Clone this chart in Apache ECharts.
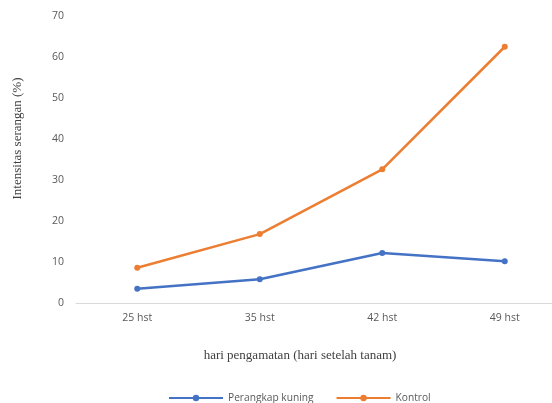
<!DOCTYPE html>
<html><head><meta charset="utf-8">
<script src="https://cdn.jsdelivr.net/npm/echarts@6/dist/echarts.min.js"></script>
<style>html,body{margin:0;padding:0;background:#fff}#c{width:552px;height:403px}</style>
</head><body><div id="c"></div>
<script>
const categories = ['25 hst', '35 hst', '42 hst', '49 hst'];
const perangkapKuning = [3.5, 5.8, 12.2, 10.2];
const kontrol = [8.6, 16.8, 32.6, 62.5];
const yTicks = [0, 10, 20, 30, 40, 50, 60, 70];

const chart = echarts.init(document.getElementById('c'), null, {renderer: 'canvas'});
chart.setOption({
  animation: false,
  backgroundColor: '#fff',
  grid: {left: 76, width: 490, top: 16, bottom: 100, containLabel: false, outerBoundsMode: 'none'},
  legend: {
    bottom: 0, left: 168, padding: 0,
    itemWidth: 54, itemHeight: 8, itemGap: 22,
    textStyle: {fontFamily: 'Open Sans', fontSize: 10.2, color: '#595959'},
    data: ['Perangkap kuning', 'Kontrol']
  },
  xAxis: {
    type: 'category', data: categories, boundaryGap: true,
    name: 'hari pengamatan (hari setelah tanam)', nameLocation: 'middle', nameGap: 46,
    nameTextStyle: {fontFamily: 'Liberation Serif', fontSize: 13, color: '#404040', padding: [0, 42, 0, 0]},
    axisLine: {lineStyle: {color: '#d9d9d9', width: 1}},
    axisTick: {show: false},
    axisLabel: {fontFamily: 'Open Sans', fontSize: 10.5, color: '#595959', margin: 10}
  },
  yAxis: {
    type: 'value', min: 0, max: 70, interval: 10,
    name: 'Intensitas serangan (%)', nameLocation: 'middle', nameGap: 52,
    nameTextStyle: {fontFamily: 'Liberation Serif', fontSize: 13, color: '#404040', padding: [0, 0, 0, 42]},
    axisLine: {show: false}, axisTick: {show: false},
    splitLine: {show: false},
    axisLabel: {fontFamily: 'Open Sans', fontSize: 10.5, color: '#595959', margin: 12,
      formatter: v => yTicks.includes(v) ? String(v) : ''}
  },
  series: [
    {name: 'Perangkap kuning', type: 'line', data: perangkapKuning,
     color: '#4472C4', lineStyle: {width: 2.5}, symbol: 'circle', symbolSize: 6},
    {name: 'Kontrol', type: 'line', data: kontrol,
     color: '#ED7D31', lineStyle: {width: 2.5}, symbol: 'circle', symbolSize: 6}
  ]
});
</script></body></html>
